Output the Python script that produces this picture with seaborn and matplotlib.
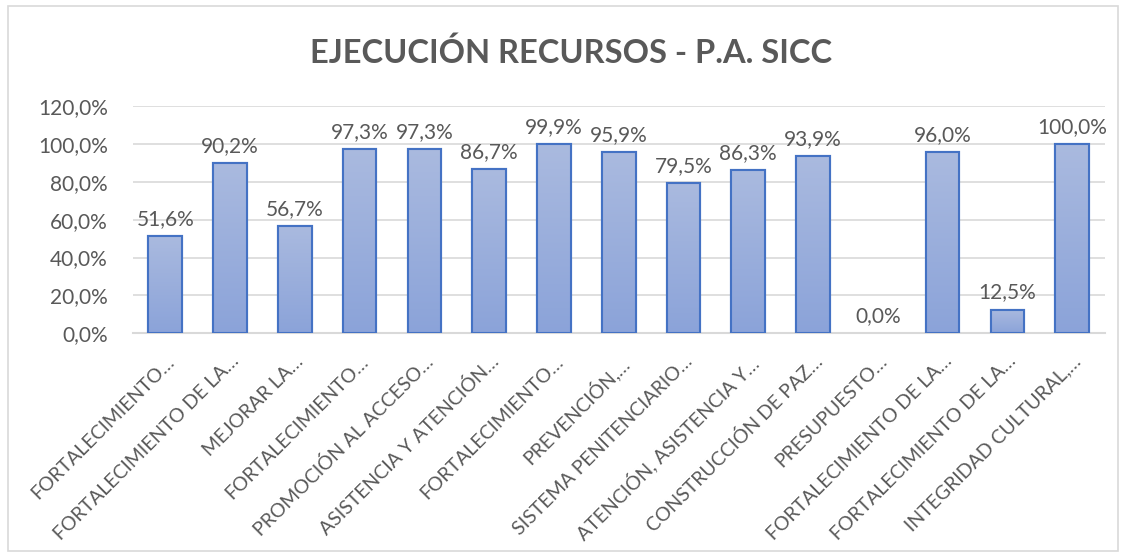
import numpy as np
import pandas as pd
import matplotlib
matplotlib.use("Agg")
import matplotlib.pyplot as plt
import seaborn as sns
from matplotlib.colors import LinearSegmentedColormap
from matplotlib.patches import Rectangle

categories = [
    "FORTALECIMIENTO…",
    "FORTALECIMIENTO DE LA…",
    "MEJORAR LA…",
    "FORTALECIMIENTO…",
    "PROMOCIÓN AL ACCESO…",
    "ASISTENCIA Y ATENCIÓN…",
    "FORTALECIMIENTO…",
    "PREVENCIÓN,…",
    "SISTEMA PENITENCIARIO…",
    "ATENCIÓN, ASISTENCIA Y…",
    "CONSTRUCCIÓN DE PAZ…",
    "PRESUPUESTO…",
    "FORTALECIMIENTO DE LA…",
    "FORTALECIMIENTO DE LA…",
    "INTEGRIDAD CULTURAL,…",
]
values = [51.6, 90.2, 56.7, 97.3, 97.3, 86.7, 99.9, 95.9, 79.5, 86.3, 93.9, 0.0, 96.0, 12.5, 100.0]
y_ticks = [0, 20, 40, 60, 80, 100, 120]
title = "EJECUCIÓN RECURSOS - P.A. SICC"

sns.set_theme(style="white")
plt.rcParams["font.family"] = ["Lato", "DejaVu Sans"]

TXT = "#595959"
df = pd.DataFrame({"key": [f"c{i}" for i in range(len(values))], "val": values})

fig = plt.figure(figsize=(11.26, 5.59), dpi=100)
ax = fig.add_axes([0.118, 0.404, 0.863, 0.406])

sns.barplot(data=df, x="key", y="val", order=list(df["key"]), ax=ax,
            width=0.52, color="#9aaedc", edgecolor="#4472C4", linewidth=1.5,
            errorbar=None, zorder=3)

ax.set_ylim(0, 120)
ax.set_xlim(-0.5, len(values) - 0.5)
ax.set_yticks(y_ticks)
ax.set_yticklabels([f"{v:.1f}%".replace(".", ",") for v in y_ticks], color=TXT, fontsize=15)
ax.set_xticks(range(len(categories)))
ax.set_xticklabels(categories, rotation=45, ha="right", rotation_mode="anchor",
                   color=TXT, fontsize=14)
ax.tick_params(axis="x", length=0, pad=14)
ax.tick_params(axis="y", length=0, pad=18)
ax.set_xlabel("")
ax.set_ylabel("")
ax.grid(axis="y", color="#d9d9d9", linewidth=1.2, zorder=0)
ax.set_axisbelow(True)
for s in ["top", "right", "left"]:
    ax.spines[s].set_visible(False)
ax.spines["bottom"].set_color("#d9d9d9")
ax.spines["bottom"].set_linewidth(1.5)

# gradient fill inside bars
cmap = LinearSegmentedColormap.from_list("g", ["#8ba3d9", "#aabadf"])
grad = np.linspace(0, 1, 256).reshape(-1, 1)
for p in list(ax.patches):
    x0, y0 = p.get_x(), p.get_y()
    w, h = p.get_width(), p.get_height()
    if h <= 0:
        p.set_visible(False)
        continue
    im = ax.imshow(grad, cmap=cmap, origin="lower", aspect="auto",
                   extent=[x0, x0 + w, y0, y0 + h], zorder=3.5)
    im.set_clip_path(p)
    ax.add_patch(Rectangle((x0, y0), w, h, facecolor="none",
                           edgecolor="#4472C4", linewidth=1.5, zorder=4))
ax.set_xlim(-0.5, len(values) - 0.5)
ax.set_ylim(0, 120)

for i, v in enumerate(values):
    ax.annotate(f"{v:.1f}%".replace(".", ","), (i, v), xytext=(0, 5),
                textcoords="offset points", ha="center", va="bottom",
                color=TXT, fontsize=15, zorder=5)

fig.text(0.507, 0.905, title, ha="center", va="center", fontsize=23.5,
         fontweight="bold", color=TXT)

fig.add_artist(Rectangle((0.007, 0.014), 0.986, 0.975, transform=fig.transFigure,
                         fill=False, edgecolor="#d9d9d9", linewidth=1.2))

fig.savefig("out.png", dpi=100)
